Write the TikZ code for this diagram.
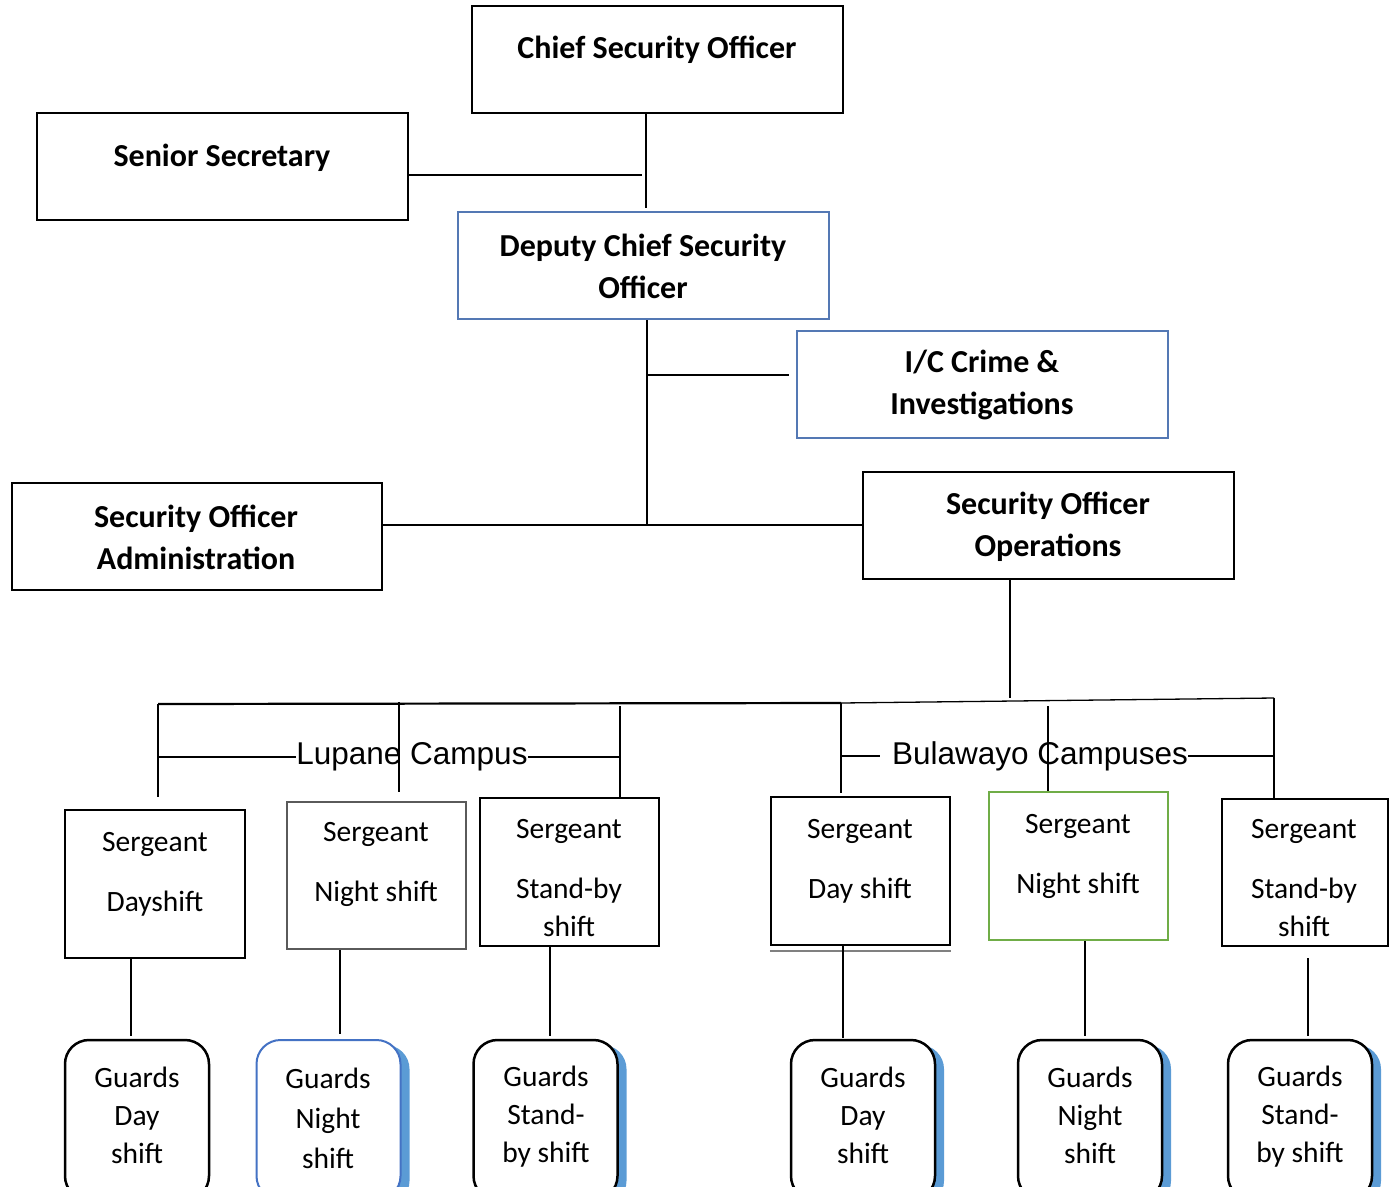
\documentclass[tikz,border=0pt]{standalone}
\usepackage{fontspec}
\setmainfont{Carlito}
\newfontfamily\arialf{Liberation Sans}
\usetikzlibrary{shadows}
\definecolor{bbord}{RGB}{84,120,180}
\definecolor{gbord}{RGB}{112,173,71}
\definecolor{shad}{RGB}{91,155,213}
\definecolor{gblue}{RGB}{68,114,196}
\definecolor{sgray}{RGB}{90,90,90}
\begin{document}
\begin{tikzpicture}[x=1pt,y=-1pt,
  topbox/.style={draw=black, line width=2.5pt, minimum width=371pt, minimum height=107pt, inner sep=0pt},
  bluebox/.style={topbox, draw=bbord, line width=2pt},
  sbox/.style={draw=black, line width=2.5pt, minimum width=180pt, minimum height=148pt, inner sep=0pt},
  gbox/.style={draw=black, fill=white, line width=2.5pt, rounded corners=24pt, minimum width=144pt, minimum height=160pt, inner sep=0pt},
  gshad/.style={drop shadow={shadow xshift=9pt, shadow yshift=-5pt, fill=shad, opacity=1}},
  ttext/.style={font=\bfseries\fontsize{32}{42}\selectfont, align=center, inner sep=0pt},
  stext/.style={font=\fontsize{29.5}{38}\selectfont, align=center, inner sep=0pt},
  camp/.style={font=\arialf\fontsize{31.5}{36}\selectfont, inner sep=0pt},
  conn/.style={draw=black, line width=1.3pt},
  connb/.style={draw=black, line width=2.2pt}]
\useasboundingbox (0,0) rectangle (1394,1186);
\clip (0,0) rectangle (1394,1186);

% top boxes
\node[topbox] (chief) at (657.5,59.5) {};
\node[ttext] (chieft) at (657,50) {Chief Security Officer};
\node[topbox] (sec) at (222.5,166.5) {};
\node[ttext] (sect) at (222,158) {Senior Secretary};
\node[bluebox] (dep) at (643.5,265.5) {};
\node[ttext] (dept) at (643,266) {Deputy Chief Security\\Officer};
\node[bluebox] (crime) at (982.5,384.5) {};
\node[ttext] (crimet) at (982,385) {I/C Crime \&\\Investigations};
\node[topbox, minimum width=370pt] (adm) at (197,536.5) {};
\node[ttext] (admt) at (196,537) {Security Officer\\Administration};
\node[topbox] (ops) at (1048.5,525.5) {};
\node[ttext] (opst) at (1048,527) {Security Officer\\Operations};

% coordinates
\coordinate (c1) at (646,208);
\coordinate (c2) at (642,175);
\coordinate (c3) at (647,525);
\coordinate (c4) at (648,375);
\coordinate (c5) at (789,375);
\coordinate (c6) at (1010,698);
\coordinate (bl) at (158,704);
\coordinate (bm) at (841,703);
\coordinate (br) at (1274,698);
\coordinate (b2) at (399,702);
\coordinate (b3) at (620,706);
\coordinate (b5) at (1048,706);
\coordinate (v1) at (158,797);
\coordinate (v2) at (399,792);
\coordinate (v3) at (620,797);
\coordinate (v4) at (841,793);
\coordinate (v5) at (1048,793);
\coordinate (v6) at (1274,798);

\draw[conn] (c1 |- chief.south) -- (c1);
\draw[conn] (c2 -| sec.east) -- (c2);
\draw[conn] (c3 |- dep.south) -- (c3);
\draw[conn] (c4) -- (c5);
\draw[conn] (adm.east |- c3) -- (ops.west |- c3);
\draw[conn] (c6 |- ops.south) -- (c6);
\draw[connb] (bl) -- (bm);
\draw[conn] (bm) -- (br);
\draw[connb] (bl) -- (v1);
\draw[connb] (b2) -- (v2);
\draw[conn] (b3) -- (v3);
\draw[connb] (bm) -- (v4);
\draw[conn] (b5) -- (v5);
\draw[conn, line width=1.6pt] (br) -- (v6);

% campus labels
\node[camp] (lup) at (412,757) {Lupane Campus};
\draw[conn] (v1 |- lup.west) -- (lup.west);
\draw[conn] (lup.east) -- (v3 |- lup.east);
\node[camp] (bul) at (1040,756) {Bulawayo Campuses};
\coordinate (bq) at (880,756);
\draw[conn] (bm |- bq) -- (bq);
\draw[conn] (bul.east) -- (v6 |- bul.east);

% sergeant boxes
\node[sbox] (s1) at (155,884) {};
\node[stext] (s1t) at (155,874) {Sergeant\\[22pt]Dayshift};
\node[sbox, draw=sgray, line width=2pt, minimum width=179pt, minimum height=147pt] (s2) at (376.5,875.5) {};
\node[stext, text=black] (s2t) at (376,864) {Sergeant\\[22pt]Night shift};
\node[sbox, minimum width=179pt] (s3) at (569.5,872) {};
\node[stext] (s3t) at (569,878) {Sergeant\\[22pt]Stand-by\\shift};
\node[sbox, minimum width=179pt] (s4) at (860.5,871) {};
\node[stext] (s4t) at (860,861) {Sergeant\\[22pt]Day shift};
\node[sbox, draw=gbord, line width=2pt, minimum width=179pt] (s5) at (1078.5,866) {};
\node[stext] (s5t) at (1078,856) {Sergeant\\[22pt]Night shift};
\node[sbox, minimum width=166pt, minimum height=147pt] (s6) at (1305,872.5) {};
\node[stext] (s6t) at (1304,878) {Sergeant\\[22pt]Stand-by\\shift};
\draw[draw=gray, line width=1.5pt] ([yshift=-4.5pt]s4.south west) -- ([yshift=-4.5pt]s4.south east);

% guard boxes
\node[gbox] (g1) at (137,1120) {};
\node[gbox, gshad, draw=gblue, line width=2pt] (g2) at (328.5,1120) {};
\node[gbox, gshad] (g3) at (545.5,1120) {};
\node[gbox, gshad] (g4) at (863,1120) {};
\node[gbox, gshad] (g5) at (1090,1120) {};
\node[gbox, gshad] (g6) at (1300,1120) {};
\node[stext] (g1t) at (137,1115) {Guards\\Day\\shift};
\node[stext, font=\fontsize{29.5}{40}\selectfont] (g2t) at (328,1118) {Guards\\Night\\shift};
\node[stext] (g3t) at (546,1117) {Guards\\Stand-\\by shift};
\node[stext] (g4t) at (863,1115) {Guards\\Day\\shift};
\node[stext] (g5t) at (1090,1115) {Guards\\Night\\shift};
\node[stext] (g6t) at (1300,1117) {Guards\\Stand-\\by shift};

% sergeant to guards
\coordinate (d1) at (131,1036);
\coordinate (d2) at (340,1034);
\coordinate (d3) at (550,1036);
\coordinate (d4) at (843,1038);
\coordinate (d5) at (1085,1036);
\coordinate (d6) at (1308,1036);
\coordinate (e6) at (1308,958);
\draw[conn] (d1 |- s1.south) -- (d1);
\draw[conn] (d2 |- s2.south) -- (d2);
\draw[conn] (d3 |- s3.south) -- (d3);
\draw[connb] (d4 |- s4.south) -- (d4);
\draw[conn] (d5 |- s5.south) -- (d5);
\draw[conn] (e6) -- (d6);
\end{tikzpicture}
\end{document}
